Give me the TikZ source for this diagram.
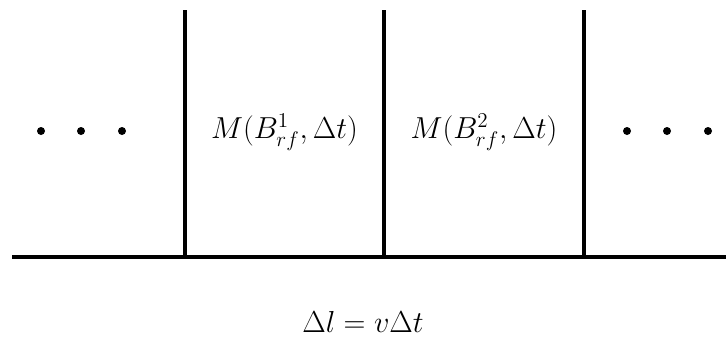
\documentclass[tikz,border=0pt]{standalone}
\usepackage{amsmath, amsfonts, amssymb}
\usepackage{xcolor}
\usepackage{tikz}
\usetikzlibrary{positioning, calc}

\begin{document}
\begin{tikzpicture}[x=0.02cm, y=-0.02cm]
% --- ESTILOS ---
\tikzset{
  linha/.style={line width=2pt, color=black},
  ponto/.style={fill=black},
  rotulo/.style={font=\LARGE, inner sep=1pt}
}
\useasboundingbox (0,0) rectangle (726,339);

% LAYER 1: Eixo horizontal
\draw[linha] (12,257) -- (726,257);

% LAYER 2: Divisorias
\foreach \x in {185,384,584}
  \draw[linha] (\x,10) -- (\x,257);

% LAYER 3: Reticencias
\foreach \x in {41,81,122,627,667,708}
  \fill[ponto] (\x,131) circle (4);

% LAYER 4: Rotulos
\node[rotulo] (bloco1) at (284.5,132) {$M(B_{rf}^{1},\Delta t)$};
\node[rotulo] (bloco2) at (484,132) {$M(B_{rf}^{2},\Delta t)$};
\node[rotulo] (passo) at (363,322) {$\Delta l = v\Delta t$};
\end{tikzpicture}
\end{document}
